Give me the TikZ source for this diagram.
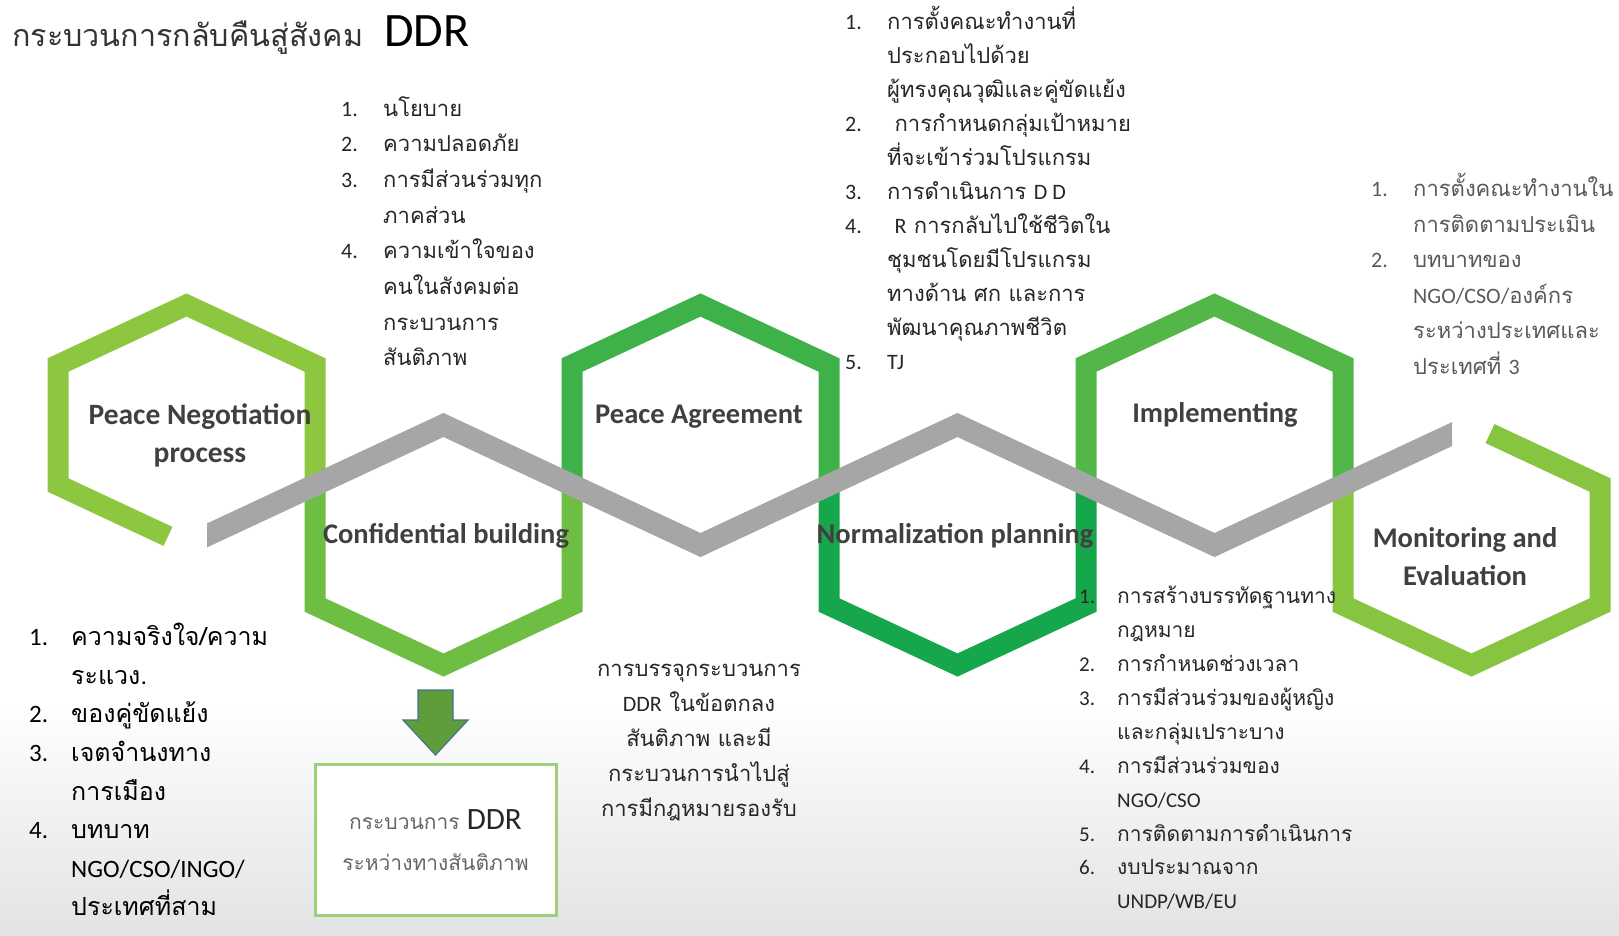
\documentclass[tikz,border=0pt]{standalone}
\usepackage{fontspec}
\setmainfont[Script=Thai]{Loma}
\newfontfamily\en{Carlito}
\usetikzlibrary{positioning}

\definecolor{hexA}{RGB}{141,198,63}
\definecolor{hexB}{RGB}{110,190,68}
\definecolor{hexC}{RGB}{62,178,73}
\definecolor{hexD}{RGB}{22,166,76}
\definecolor{hexE}{RGB}{82,183,70}
\definecolor{hexF}{RGB}{135,197,65}
\definecolor{band}{RGB}{166,166,166}
\definecolor{labelgrey}{RGB}{64,64,64}
\definecolor{boxgreen}{RGB}{160,208,125}
\definecolor{arrowfill}{RGB}{94,158,58}
\definecolor{arrowline}{RGB}{72,112,140}

\newcommand{\sizeto}[2]{\fontsize{#1}{#2}\selectfont\lineskiplimit=-\maxdimen}
\newcommand{\itm}[2][42pt]{\makebox[#1][l]{\en #2}}
\newcommand{\hang}[1][42pt]{\hspace*{#1}}

\begin{document}
\begin{tikzpicture}[
    x=1pt, y=-1pt,
    hexline/.style={line width=21pt},
    hexlabel/.style={font=\sizeto{28.5}{38}\en\bfseries, text=labelgrey, align=center, inner sep=0pt},
    list/.style={align=left, inner sep=0pt, anchor=north west, text=black!85, font=\sizeto{22}{34}},
    ddrarrow/.style={fill=arrowfill, draw=arrowline, line width=1.2pt, line join=miter},
    ddrbox/.style={rectangle, draw=boxgreen, line width=3pt, fill=white, minimum width=241pt, minimum height=151pt,
        align=center, text=black!60, font=\sizeto{21}{41}}
]

\useasboundingbox (0,0) rectangle (1619,935);
\shade [top color=white, bottom color=black!11] (0,700) rectangle (1619,935);

% hexagon centres
\coordinate (h1) at (186.5,425);
\coordinate (h2) at (443.5,545);
\coordinate (h3) at (700.5,425);
\coordinate (h4) at (957.5,545);
\coordinate (h5) at (1214.5,425);
\coordinate (h6) at (1471.5,545);

\draw [hexline, hexA] (h1) ++(-18.5,111.4) -- ++(-110,-51.4) -- ++(0,-120) -- ++(128.5,-60) -- ++(128.5,60) -- ++(0,120);
\draw [hexline, hexB] (h2) ++(0,-120) -- ++(128.5,60) -- ++(0,120) -- ++(-128.5,60) -- ++(-128.5,-60) -- ++(0,-120) -- cycle;
\draw [hexline, hexC] (h3) ++(0,-120) -- ++(128.5,60) -- ++(0,120) -- ++(-128.5,60) -- ++(-128.5,-60) -- ++(0,-120) -- cycle;
\draw [hexline, hexD] (h4) ++(0,-120) -- ++(128.5,60) -- ++(0,120) -- ++(-128.5,60) -- ++(-128.5,-60) -- ++(0,-120) -- cycle;
\draw [hexline, hexE] (h5) ++(0,-120) -- ++(128.5,60) -- ++(0,120) -- ++(-128.5,60) -- ++(-128.5,-60) -- ++(0,-120) -- cycle;
\draw [hexline, hexF] (h6) ++(18.5,-111.4) -- ++(110,51.4) -- ++(0,120) -- ++(-128.5,60) -- ++(-128.5,-60) -- ++(0,-120);

% grey zigzag
\fill [band] (207,523.4) -- (443.5,413) -- (700.5,533) -- (957.5,413) -- (1214.5,533) -- (1452,422.1)
    -- (1452,446.1) -- (1214.5,557) -- (957.5,437) -- (700.5,557) -- (443.5,437) -- (207,547.4) -- cycle;

% title
\node [anchor=base west, inner sep=0pt, text=black!80, font=\sizeto{30.5}{40}] (title) at (12,46) {กระบวนการกลับคืนสู่สังคม};
\node [anchor=base west, inner sep=0pt, text=black, font=\sizeto{48}{50}\en] (ddr) at (384,46) {DDR};

% stages
\node [hexlabel, font=\sizeto{29.5}{38}\en\bfseries] (neg) at (200,435) {Peace Negotiation\\process};
\node [hexlabel] (conf) at (446,536) {Confidential building};
\node [hexlabel] (agree) at (699,417) {Peace Agreement};
\node [hexlabel] (norm) at (955,536) {Normalization planning};
\node [hexlabel] (impl) at (1215,415) {Implementing};
\node [hexlabel] (mon) at (1465,557) {Monitoring and\\Evaluation};

% notes
\node [list, font=\sizeto{22}{35.7}] (conflist) at (341,96) {\itm{1.}นโยบาย\\ \itm{2.}ความปลอดภัย\\ \itm{3.}การมีส่วนร่วมทุก\\ \hang ภาคส่วน\\
    \itm{4.}ความเข้าใจของ\\ \hang คนในสังคมต่อ\\ \hang กระบวนการ\\ \hang สันติภาพ};
\node [list] (normlist) at (845,6) {\itm{1.}การตั้งคณะทำงานที่\\ \hang ประกอบไปด้วย\\ \hang ผู้ทรงคุณวุฒิและคู่ขัดแย้ง\\
    \itm{2.} การกำหนดกลุ่มเป้าหมาย\\ \hang ที่จะเข้าร่วมโปรแกรม\\ \itm{3.}การดำเนินการ {\en D D}\\
    \itm{4.} {\en R} การกลับไปใช้ชีวิตใน\\ \hang ชุมชนโดยมีโปรแกรม\\ \hang ทางด้าน ศก และการ\\ \hang พัฒนาคุณภาพชีวิต\\ \itm{5.}{\en TJ}};
\node [list, text=black!65, font=\sizeto{22}{35.5}] (monlist) at (1371,173) {\itm{1.}การตั้งคณะทำงานใน\\ \hang การติดตามประเมิน\\ \itm{2.}บทบาทของ\\
    \hang{\en NGO/CSO/}องค์กร\\ \hang ระหว่างประเทศและ\\ \hang ประเทศที่ {\en 3}};
\node [list, text=black, font=\sizeto{25}{38.6}] (neglist) at (29,623) {\itm{1.}ความจริงใจ/ความ\\ \hang ระแวง.\\ \itm{2.}ของคู่ขัดแย้ง\\
    \itm{3.}เจตจำนงทาง\\ \hang การเมือง\\ \itm{4.}บทบาท\\ \hang{\en NGO/CSO/INGO/}\\ \hang ประเทศที่สาม};
\node [list, anchor=north, align=center, font=\sizeto{22}{35}] (agreetext) at (699,664) {การบรรจุกระบวนการ\\ {\en DDR} ในข้อตกลง\\ สันติภาพ และมี\\
    กระบวนการนำไปสู่\\ การมีกฎหมายรองรับ};
\node [list, font=\sizeto{21}{33.9}] (impllist) at (1079,586) {\itm[38pt]{1.}การสร้างบรรทัดฐานทาง\\ \hang[38pt]กฎหมาย\\
    \itm[38pt]{2.}การกำหนดช่วงเวลา\\ \itm[38pt]{3.}การมีส่วนร่วมของผู้หญิง\\ \hang[38pt]และกลุ่มเปราะบาง\\
    \itm[38pt]{4.}การมีส่วนร่วมของ\\ \hang[38pt]{\en NGO/CSO}\\ \itm[38pt]{5.}การติดตามการดำเนินการ\\
    \itm[38pt]{6.}งบประมาณจาก\\ \hang[38pt]{\en UNDP/WB/EU}};

% outcome
\coordinate (tail) at (435.5,690);
\filldraw [ddrarrow] (tail) ++(-17.5,0) -- ++(35,0) -- ++(0,30) -- ++(15,0) -- ++(-32.5,35) coordinate (tip)
    -- ++(-32.5,-35) -- ++(15,0) -- cycle;
\node [ddrbox, below=8pt of tip] (box) {กระบวนการ {\en\fontsize{31}{41}\selectfont\color{black!85}DDR}\\ ระหว่างทางสันติภาพ};

\end{tikzpicture}
\end{document}
